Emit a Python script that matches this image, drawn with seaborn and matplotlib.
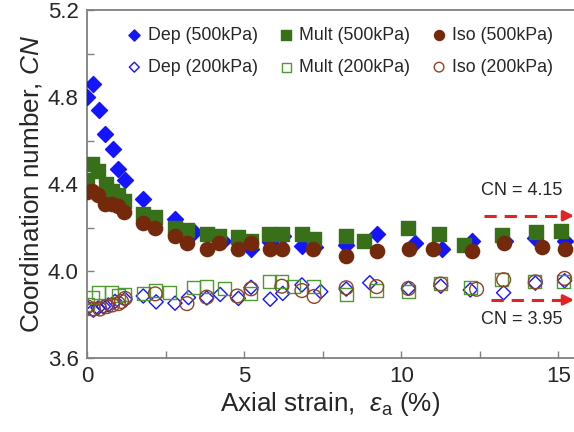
import matplotlib
matplotlib.use("Agg")
import matplotlib.pyplot as plt
import seaborn as sns
import pandas as pd
from matplotlib.ticker import MultipleLocator

# ---- data ----
dep500_x = [0.0, 0.2, 0.38, 0.57, 0.82, 1.0, 1.21, 1.79, 2.8, 3.39, 4.34, 5.22, 5.83, 6.25, 6.84, 7.26, 8.25, 9.22, 10.45, 11.3, 12.25, 13.3, 14.27, 15.22]
dep500_y = [4.80, 4.86, 4.74, 4.63, 4.56, 4.47, 4.42, 4.33, 4.24, 4.18, 4.14, 4.10, 4.135, 4.16, 4.115, 4.11, 4.12, 4.17, 4.13, 4.10, 4.14, 4.14, 4.15, 4.14]

mult500_x = [0.0, 0.16, 0.35, 0.6, 0.8, 1.0, 1.19, 1.78, 2.17, 2.8, 3.18, 3.81, 4.2, 4.8, 5.22, 5.8, 6.2, 6.85, 7.23, 8.25, 8.82, 10.23, 11.2, 12.0, 13.2, 14.3, 15.1]
mult500_y = [4.42, 4.49, 4.46, 4.40, 4.37, 4.35, 4.32, 4.26, 4.25, 4.20, 4.19, 4.17, 4.16, 4.155, 4.14, 4.17, 4.17, 4.17, 4.146, 4.16, 4.14, 4.20, 4.17, 4.12, 4.165, 4.18, 4.185]

iso500_x = [0.0, 0.16, 0.35, 0.56, 0.79, 0.98, 1.19, 1.77, 2.17, 2.8, 3.18, 3.81, 4.2, 4.8, 5.22, 5.81, 6.2, 7.2, 8.25, 9.22, 10.25, 11.0, 12.25, 13.26, 14.48, 15.22]
iso500_y = [4.365, 4.37, 4.35, 4.31, 4.31, 4.30, 4.27, 4.22, 4.20, 4.16, 4.13, 4.10, 4.13, 4.10, 4.13, 4.10, 4.10, 4.10, 4.07, 4.09, 4.10, 4.10, 4.09, 4.13, 4.11, 4.10]

dep200_x = [0.02, 0.2, 0.35, 0.52, 0.68, 0.89, 1.21, 1.79, 2.2, 2.8, 3.23, 3.81, 4.24, 4.82, 5.22, 5.83, 6.23, 6.84, 7.44, 8.25, 9.0, 10.23, 11.26, 12.2, 13.26, 14.27, 15.2]
dep200_y = [3.83, 3.82, 3.83, 3.836, 3.844, 3.86, 3.87, 3.885, 3.858, 3.852, 3.878, 3.876, 3.892, 3.874, 3.925, 3.87, 3.897, 3.936, 3.905, 3.917, 3.946, 3.92, 3.93, 3.913, 3.90, 3.944, 3.955]

mult200_x = [0.0, 0.16, 0.37, 0.77, 1.0, 1.19, 1.79, 2.17, 2.62, 3.39, 3.81, 4.39, 5.19, 5.8, 6.2, 6.57, 7.2, 8.25, 9.22, 10.23, 11.26, 12.2, 13.2, 14.24, 15.17]
mult200_y = [3.844, 3.88, 3.90, 3.90, 3.886, 3.89, 3.897, 3.91, 3.90, 3.925, 3.93, 3.92, 3.897, 3.95, 3.95, 3.93, 3.93, 3.89, 3.91, 3.905, 3.944, 3.923, 3.96, 3.95, 3.95]

iso200_x = [0.0, 0.2, 0.41, 0.63, 0.81, 1.0, 1.1, 1.21, 2.17, 3.18, 3.81, 4.78, 5.22, 6.2, 6.84, 7.23, 8.25, 9.22, 10.23, 11.26, 12.4, 13.26, 14.27, 15.2]
iso200_y = [3.836, 3.825, 3.825, 3.836, 3.844, 3.85, 3.86, 3.874, 3.895, 3.85, 3.88, 3.885, 3.918, 3.93, 3.91, 3.883, 3.923, 3.928, 3.92, 3.94, 3.916, 3.96, 3.95, 3.966]

cn_labels = ["CN = 4.15", "CN = 3.95"]
x_ticks = [0, 5, 10, 15]
y_ticks = [3.6, 4.0, 4.4, 4.8, 5.2]

# ---- style ----
sns.set_style("ticks")
plt.rcParams["font.family"] = ["Liberation Sans", "DejaVu Sans"]
plt.rcParams["mathtext.fontset"] = "custom"
plt.rcParams["mathtext.rm"] = "Liberation Sans"
plt.rcParams["mathtext.it"] = "Liberation Sans:italic"

BLUE = "#1414ff"
GREEN = "#38701a"
GREEN_O = "#4f9a30"
BROWN = "#74290c"
BROWN_O = "#8e4426"
RED = "#e52222"

fig = plt.figure(figsize=(5.74, 4.32), dpi=100)
ax = fig.add_axes([87/574, 1 - 358/432, (574 - 87)/574, 348/432])

series = [
    ("Dep (500kPa)", dep500_x, dep500_y, "D", BLUE, BLUE, 66),
    ("Mult (500kPa)", mult500_x, mult500_y, "s", GREEN, GREEN, 100),
    ("Iso (500kPa)", iso500_x, iso500_y, "o", BROWN, BROWN, 105),
    ("Dep (200kPa)", dep200_x, dep200_y, "D", "none", BLUE, 52),
    ("Mult (200kPa)", mult200_x, mult200_y, "s", "none", GREEN_O, 88),
    ("Iso (200kPa)", iso200_x, iso200_y, "o", "none", BROWN_O, 98),
]

for label, xs, ys, mk, fc, ec, s in series:
    df = pd.DataFrame({"x": xs, "y": ys})
    sns.scatterplot(data=df, x="x", y="y", ax=ax, marker=mk, s=s,
                    facecolor=fc, edgecolor=ec, linewidth=1.0, label=label,
                    zorder=3 if fc != "none" else 2)

ax.set_xlim(0, 15.5)
ax.set_ylim(3.6, 5.2)
ax.set_xticks(x_ticks)
ax.set_yticks(y_ticks)
ax.set_yticklabels([f"{v:.1f}" for v in y_ticks])
ax.xaxis.set_minor_locator(MultipleLocator(2.5))
ax.yaxis.set_minor_locator(MultipleLocator(0.2))
ax.tick_params(which="both", direction="in", length=5, width=1, color="#808080",
               labelsize=16, pad=6)
ax.tick_params(which="minor", labelleft=False, labelbottom=False)
for side in ["left", "bottom", "top"]:
    ax.spines[side].set_color("#808080")
    ax.spines[side].set_linewidth(1.3)
ax.spines["right"].set_visible(False)

ax.set_xlabel(r"Axial strain,  $\mathit{\varepsilon}_{\mathrm{a}}$ (%)", fontsize=18.8, labelpad=2)
ax.set_ylabel(r"Coordination number, $\mathit{CN}$", fontsize=18.8, labelpad=3)

handles, labels = ax.get_legend_handles_labels()
ax.get_legend().remove() if ax.get_legend() else None
groups = [(0, 3, 0.0752), (1, 4, 0.387), (2, 5, 0.701)]
legs = []
for i, j, xa in groups:
    lg = ax.legend([handles[i], handles[j]], [labels[i], labels[j]],
                   loc="upper left", bbox_to_anchor=(xa, 0.952), frameon=False,
                   fontsize=12.8, handletextpad=0.15, markerscale=0.7,
                   labelspacing=0.85, handlelength=1.2, borderpad=0, borderaxespad=0)
    legs.append(lg)
for lg in legs[:-1]:
    ax.add_artist(lg)

# annotations
arrow_y = [4.254, 3.867]
text_pos = [(13.82, 4.37), (13.84, 3.775)]
arrow_x0 = [12.65, 12.85]
for lab, ay, (tx, ty), x0 in zip(cn_labels, arrow_y, text_pos, arrow_x0):
    ax.plot([x0, 15.2], [ay, ay], ls=(0, (4, 2.6)), color=RED, lw=2.2, clip_on=False)
    ax.annotate("", xy=(15.5, ay), xytext=(15.15, ay),
                arrowprops=dict(arrowstyle="-|>,head_length=0.6,head_width=0.3",
                                color=RED, lw=2.2, shrinkA=0, shrinkB=0),
                annotation_clip=False)
    ax.text(tx, ty, lab, fontsize=13, ha="center", va="center")

fig.savefig("out.png", dpi=100)
